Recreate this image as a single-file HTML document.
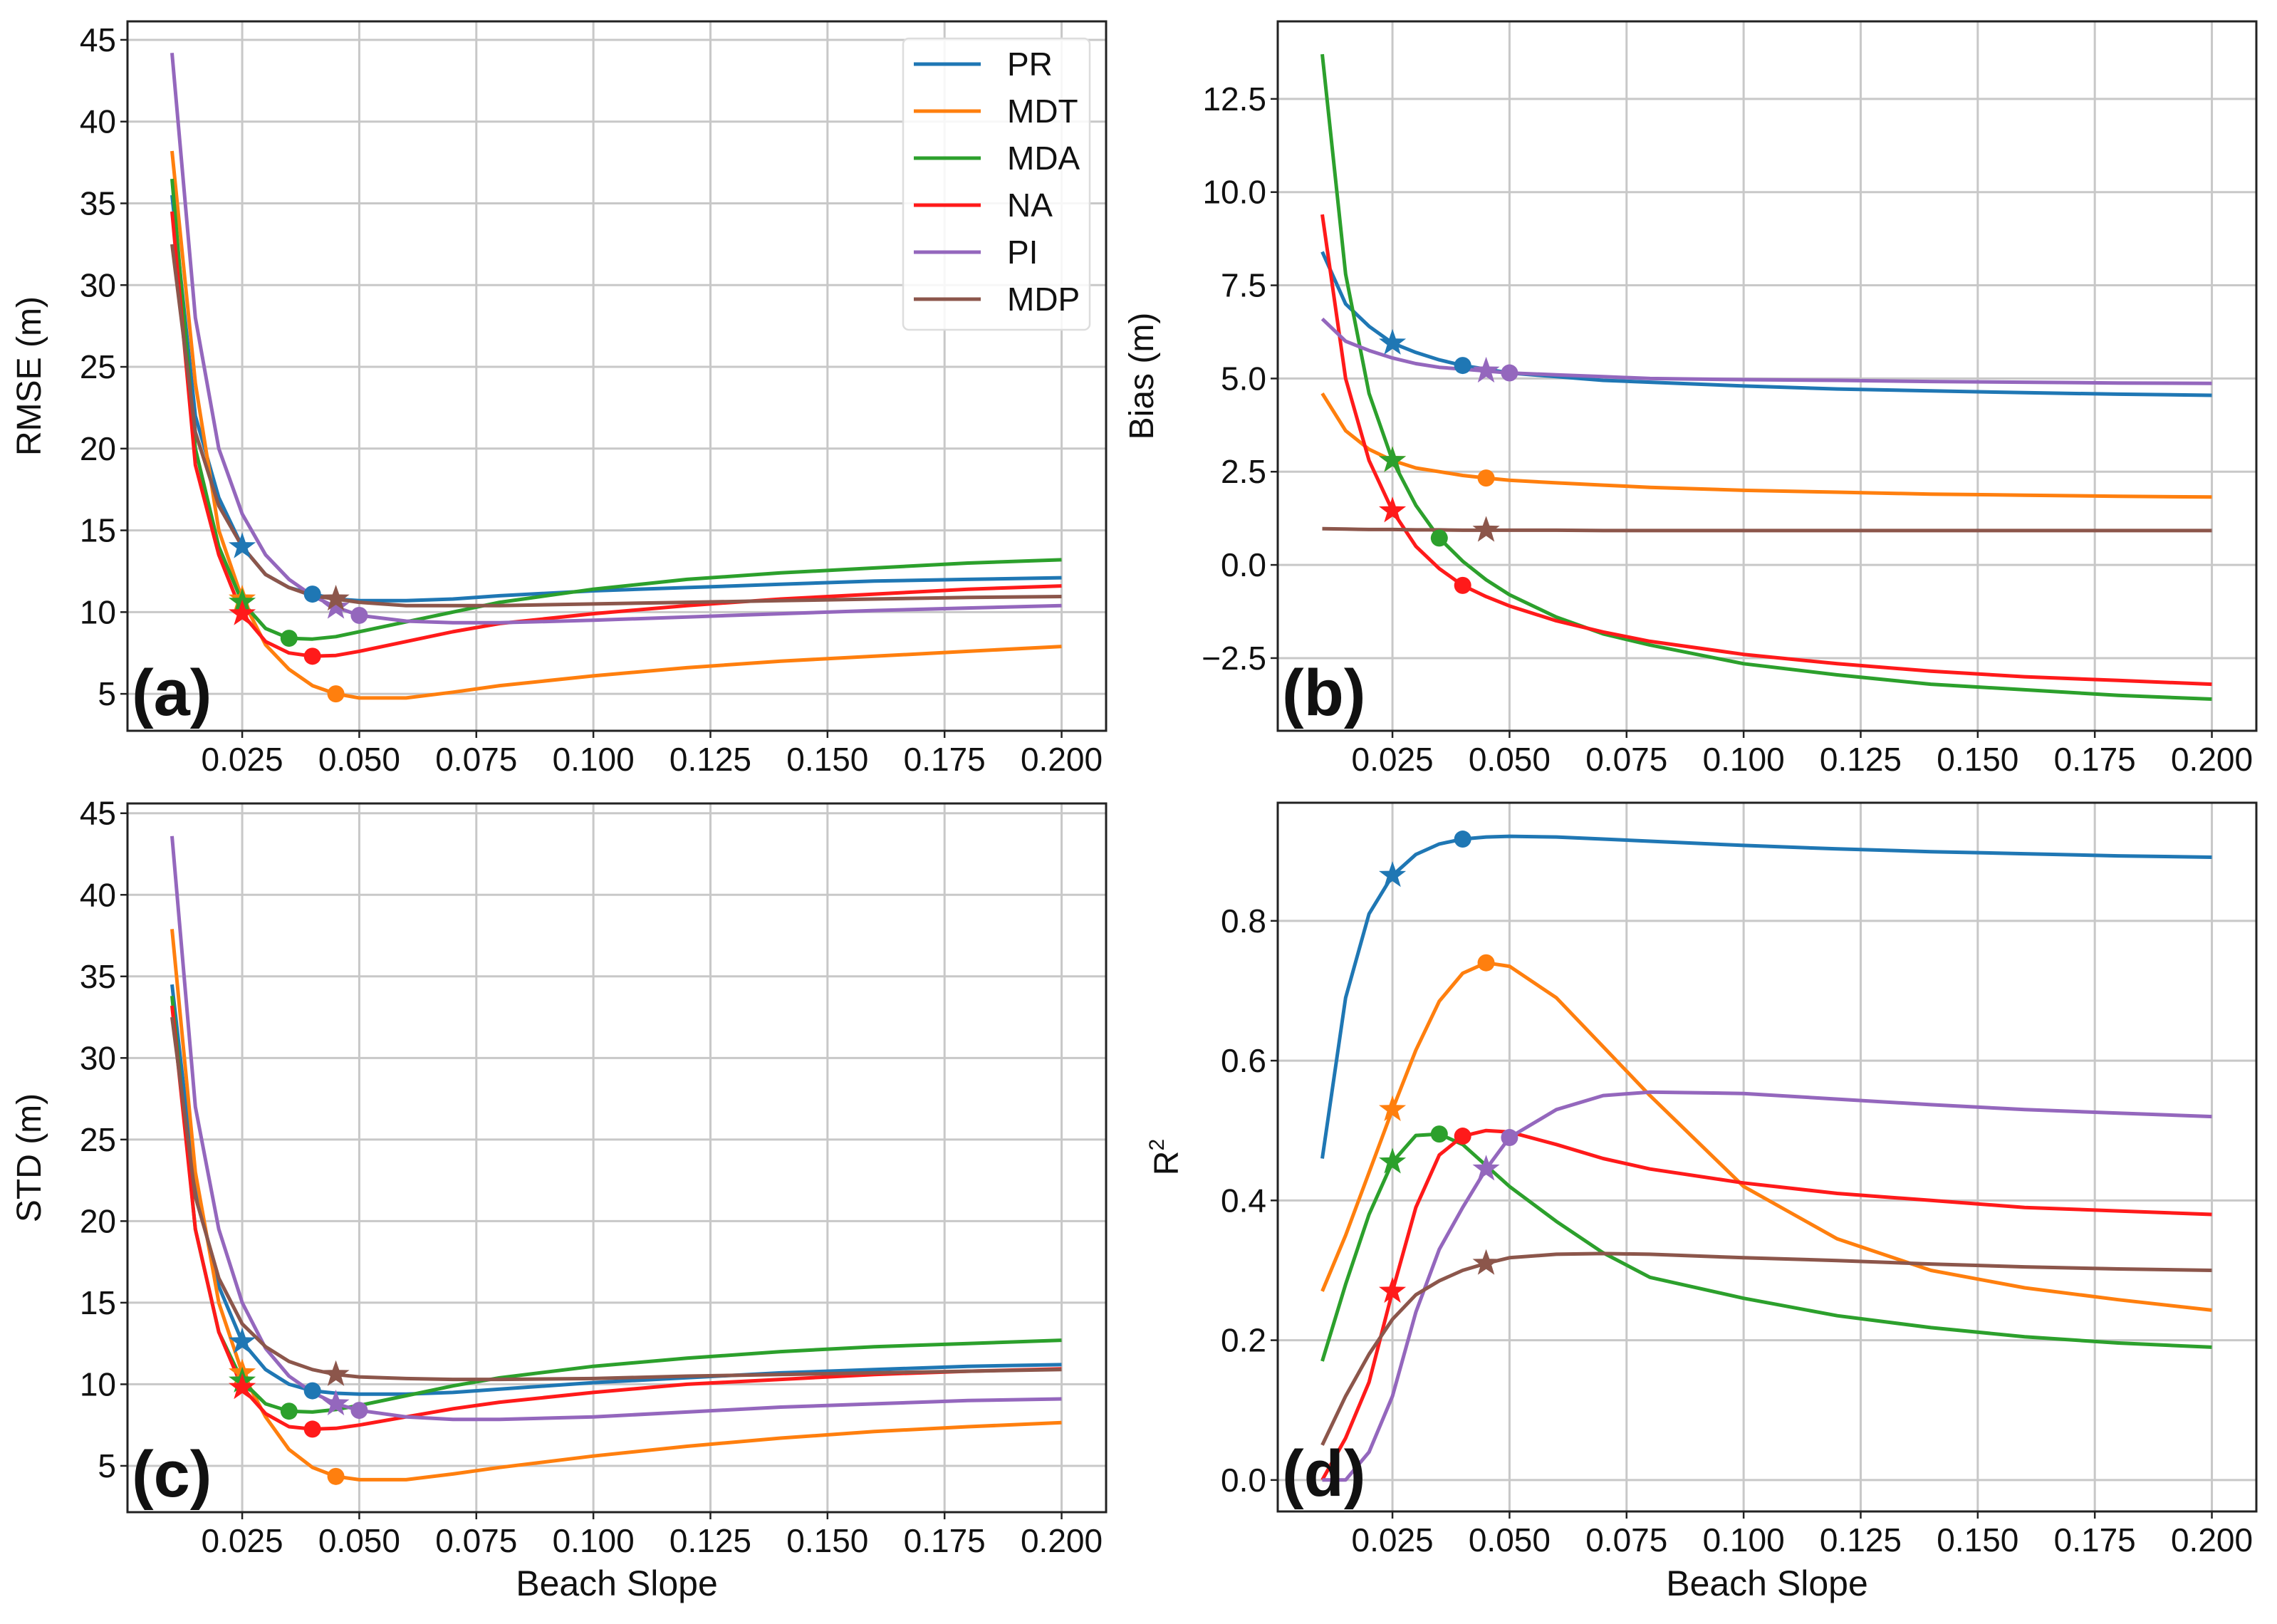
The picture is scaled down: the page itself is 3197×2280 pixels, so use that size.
<!DOCTYPE html>
<html><head><meta charset="utf-8">
<style>
html,body{margin:0;padding:0;background:#fff;}
svg{display:block;font-family:"Liberation Sans","DejaVu Sans",sans-serif;}
</style></head>
<body>
<svg id="fig" width="3197" height="2280" viewBox="0 0 3197 2280" xmlns="http://www.w3.org/2000/svg">
<rect width="3197" height="2280" fill="#fff"/>
</svg>
<script>
// ---- data ----
const xs = [0.01,0.015,0.02,0.025,0.03,0.035,0.04,0.045,0.05,0.06,0.07,0.08,0.1,0.12,0.14,0.16,0.18,0.2];
const seriesNames = ["PR","MDT","MDA","NA","PI","MDP"];
const colors = ["#1f77b4","#ff7f0e","#2ca02c","#ff1a1a","#9467bd","#8c564b"];
const xTicks = [0.025,0.05,0.075,0.1,0.125,0.15,0.175,0.2];
const xTickLabels = ["0.025","0.050","0.075","0.100","0.125","0.150","0.175","0.200"];

const rmsePR  = [35.5,22,17,14,12.3,11.5,11.1,10.8,10.7,10.7,10.8,11.0,11.3,11.5,11.7,11.9,12.0,12.1];
const rmseMDT = [38.2,24,15,10.8,8,6.5,5.5,5.0,4.75,4.75,5.1,5.5,6.1,6.6,7.0,7.3,7.6,7.9];
const rmseMDA = [36.5,20,14,10.6,9.0,8.4,8.35,8.5,8.8,9.4,10.0,10.6,11.4,12.0,12.4,12.7,13.0,13.2];
const rmseNA  = [34.5,19,13.5,9.9,8.2,7.5,7.3,7.35,7.6,8.2,8.8,9.3,9.9,10.4,10.8,11.1,11.4,11.6];
const rmsePI  = [44.2,28,20,16,13.5,12,11,10.3,9.8,9.45,9.35,9.35,9.5,9.7,9.9,10.1,10.25,10.4];
const rmseMDP = [32.5,21,16.5,14,12.3,11.5,11.0,10.8,10.6,10.4,10.4,10.4,10.5,10.6,10.7,10.8,10.9,10.95];

const biasPR  = [8.4,7.0,6.4,5.95,5.7,5.5,5.35,5.25,5.15,5.05,4.95,4.9,4.8,4.72,4.67,4.62,4.58,4.55];
const biasMDT = [4.6,3.6,3.1,2.8,2.6,2.5,2.4,2.33,2.27,2.2,2.14,2.08,2.0,1.95,1.9,1.87,1.84,1.82];
const biasMDA = [13.7,7.8,4.6,2.8,1.6,0.72,0.1,-0.4,-0.8,-1.4,-1.85,-2.15,-2.65,-2.95,-3.2,-3.35,-3.5,-3.6];
const biasNA  = [9.4,5.0,2.8,1.45,0.5,-0.1,-0.55,-0.85,-1.1,-1.5,-1.8,-2.05,-2.4,-2.65,-2.85,-3.0,-3.1,-3.2];
const biasPI  = [6.6,6.0,5.75,5.55,5.4,5.3,5.25,5.2,5.15,5.1,5.05,5.0,4.97,4.95,4.92,4.9,4.88,4.87];
const biasMDP = [0.97,0.96,0.95,0.95,0.94,0.94,0.93,0.93,0.93,0.93,0.92,0.92,0.92,0.92,0.92,0.92,0.92,0.92];

const stdPR  = [34.5,22,16,12.6,10.9,10.0,9.6,9.45,9.4,9.4,9.5,9.7,10.1,10.4,10.7,10.9,11.1,11.2];
const stdMDT = [37.9,23,15,10.7,8,6,4.9,4.35,4.15,4.15,4.5,4.9,5.6,6.2,6.7,7.1,7.4,7.65];
const stdMDA = [33.8,19.5,13.2,10.2,8.8,8.35,8.3,8.45,8.7,9.3,9.9,10.4,11.1,11.6,12.0,12.3,12.5,12.7];
const stdNA  = [33.2,19.5,13.2,9.8,8.2,7.4,7.25,7.3,7.5,8.0,8.5,8.9,9.5,10.0,10.3,10.6,10.8,10.95];
const stdPI  = [43.6,27,19.5,15,12.2,10.5,9.5,8.8,8.4,8.0,7.85,7.85,8.0,8.3,8.6,8.8,9.0,9.1];
const stdMDP = [32.5,21.5,16.5,13.7,12.3,11.4,10.9,10.6,10.45,10.35,10.3,10.3,10.35,10.5,10.6,10.7,10.8,10.9];

const r2PR  = [0.46,0.69,0.81,0.865,0.895,0.91,0.917,0.92,0.921,0.92,0.917,0.914,0.908,0.903,0.899,0.896,0.893,0.891];
const r2MDT = [0.27,0.35,0.44,0.53,0.615,0.685,0.725,0.74,0.735,0.69,0.62,0.55,0.42,0.345,0.30,0.275,0.258,0.243];
const r2MDA = [0.17,0.28,0.38,0.455,0.493,0.495,0.48,0.45,0.42,0.37,0.325,0.29,0.26,0.235,0.218,0.205,0.196,0.19];
const r2NA  = [0.0,0.06,0.14,0.27,0.39,0.465,0.492,0.5,0.498,0.48,0.46,0.445,0.425,0.41,0.4,0.39,0.385,0.38];
const r2PI  = [0.0,0.0,0.04,0.12,0.24,0.33,0.39,0.445,0.49,0.53,0.55,0.555,0.553,0.545,0.537,0.53,0.525,0.52];
const r2MDP = [0.05,0.12,0.18,0.23,0.265,0.285,0.3,0.31,0.318,0.323,0.324,0.323,0.318,0.314,0.309,0.305,0.302,0.3];

const starX   = [0.025,0.025,0.025,0.025,0.045,0.045];
const circleX = [0.04,0.045,0.035,0.04,0.05,null];

const ticksA = [5,10,15,20,25,30,35,40,45];
const ticksB = [-2.5,0,2.5,5,7.5,10,12.5];
const ticksBLabels = ["\u22122.5","0.0","2.5","5.0","7.5","10.0","12.5"];
const ticksD = [0,0.2,0.4,0.6,0.8];
const ticksDLabels = ["0.0","0.2","0.4","0.6","0.8"];

const panels = [
 {id:"a", x0:179, x1:1553, y0:30, y1:1026, ylim:[2.74,46.13], data:[rmsePR,rmseMDT,rmseMDA,rmseNA,rmsePI,rmseMDP], ticks:ticksA, tl:ticksA.map(String), ylabel:"RMSE (m)", ylx:57, xlabel:null, legend:true},
 {id:"b", x0:1794, x1:3168, y0:30, y1:1026, ylim:[-4.45,14.58], data:[biasPR,biasMDT,biasMDA,biasNA,biasPI,biasMDP], ticks:ticksB, tl:ticksBLabels, ylabel:"Bias (m)", ylx:1619, xlabel:null},
 {id:"c", x0:179, x1:1553, y0:1128, y1:2123, ylim:[2.16,45.6], data:[stdPR,stdMDT,stdMDA,stdNA,stdPI,stdMDP], ticks:ticksA, tl:ticksA.map(String), ylabel:"STD (m)", ylx:57, xlabel:"Beach Slope"},
 {id:"d", x0:1794, x1:3168, y0:1127, y1:2122, ylim:[-0.045,0.969], data:[r2PR,r2MDT,r2MDA,r2NA,r2PI,r2MDP], ticks:ticksD, tl:ticksDLabels, ylabel:"R2", ylx:1654, xlabel:"Beach Slope"}
];
const XLIM=[0.0005,0.2095];
const NS="http://www.w3.org/2000/svg";
const svg=document.getElementById("fig");
function el(tag,attrs,parent){const e=document.createElementNS(NS,tag);for(const k in attrs)e.setAttribute(k,attrs[k]);(parent||svg).appendChild(e);return e;}
function interp(arr,x){for(let i=0;i<xs.length-1;i++){if(x>=xs[i]-1e-9&&x<=xs[i+1]+1e-9){const t=(x-xs[i])/(xs[i+1]-xs[i]);return arr[i]+t*(arr[i+1]-arr[i]);}}return arr[arr.length-1];}
function starPts(cx,cy,R){const r=R*0.4;let p=[];for(let i=0;i<10;i++){const a=-Math.PI/2+i*Math.PI/5;const rr=i%2?r:R;p.push((cx+rr*Math.cos(a)).toFixed(1)+","+(cy+rr*Math.sin(a)).toFixed(1));}return p.join(" ");}

panels.forEach(P=>{
  const g=el("g",{});
  
  
  const sx=v=>P.x0+(v-XLIM[0])/(XLIM[1]-XLIM[0])*(P.x1-P.x0);
  const sy=v=>P.y1-(v-P.ylim[0])/(P.ylim[1]-P.ylim[0])*(P.y1-P.y0);
  xTicks.forEach((t,i)=>{
    const gl=el("line",{x1:sx(t),x2:sx(t),y1:P.y0,y2:P.y1,stroke:"#c8c8c8","stroke-width":3},g);
    
    
    el("line",{x1:sx(t),x2:sx(t),y1:P.y1,y2:P.y1+10,stroke:"#222","stroke-width":2.5},g);
    const tx=el("text",{x:sx(t),y:P.y1+56,"font-size":46,"text-anchor":"middle",fill:"#111"},g);
    tx.textContent=xTickLabels[i];
    
    
  });
  P.ticks.forEach((t,i)=>{
    const gl=el("line",{x1:P.x0,x2:P.x1,y1:sy(t),y2:sy(t),stroke:"#c8c8c8","stroke-width":3},g);
    
    
    el("line",{x1:P.x0-10,x2:P.x0,y1:sy(t),y2:sy(t),stroke:"#222","stroke-width":2.5},g);
    const tx=el("text",{x:P.x0-16,y:sy(t)+16,"font-size":46,"text-anchor":"end",fill:"#111"},g);
    tx.textContent=P.tl[i];
    
    
  });
  P.data.forEach((arr,si)=>{
    const pts=xs.map((x,i)=>sx(x).toFixed(1)+","+sy(arr[i]).toFixed(1)).join(" ");
    const pl=el("polyline",{points:pts,fill:"none",stroke:colors[si],"stroke-width":5,"stroke-linejoin":"round"},g);
    
    
  });
  P.data.forEach((arr,si)=>{
    if(circleX[si]!==null){
      const c=el("circle",{cx:sx(circleX[si]),cy:sy(interp(arr,circleX[si])),r:12,fill:colors[si]},g);
      
      
    }
    const s=el("polygon",{points:starPts(sx(starX[si]),sy(interp(arr,starX[si])),20),fill:colors[si]},g);
    
    
  });
  const fr=el("rect",{x:P.x0,y:P.y0,width:P.x1-P.x0,height:P.y1-P.y0,fill:"none",stroke:"#222","stroke-width":3},g);
  
  
  const pl=el("text",{x:P.x0+6,y:P.y1-22,"font-size":92,"font-weight":"bold",fill:"#111"},g);
  pl.textContent="("+P.id+")";
  
  
  const cy=(P.y0+P.y1)/2;
  const yl=el("text",{x:P.ylx,y:cy,"font-size":48,"text-anchor":"middle",fill:"#111",transform:"rotate(-90 "+P.ylx+" "+cy+")"},g);
  if(P.ylabel==="R2"){yl.textContent="R";const sup=el("tspan",{"font-size":30,dy:-20},yl);sup.textContent="2";}
  else yl.textContent=P.ylabel;
  
  
  if(P.xlabel){
    const xl=el("text",{x:(P.x0+P.x1)/2,y:2240,"font-size":50,"text-anchor":"middle",fill:"#111"},g);
    xl.textContent=P.xlabel;
    
    
  }
  if(P.legend){
    const lg=el("g",{},g);
    
    
    el("rect",{x:1268,y:54,width:262,height:409,rx:8,fill:"#fff","fill-opacity":0.85,stroke:"#ddd","stroke-width":2.5},lg);
    seriesNames.forEach((n,i)=>{
      const y=90+i*66;
      const ln=el("line",{x1:1283,x2:1377,y1:y,y2:y,stroke:colors[i],"stroke-width":5},lg);
      
      
      const t=el("text",{x:1414,y:y+16,"font-size":46,fill:"#111"},lg);
      t.textContent=n;
      
      
    });
  }
});
</script>
</body></html>
